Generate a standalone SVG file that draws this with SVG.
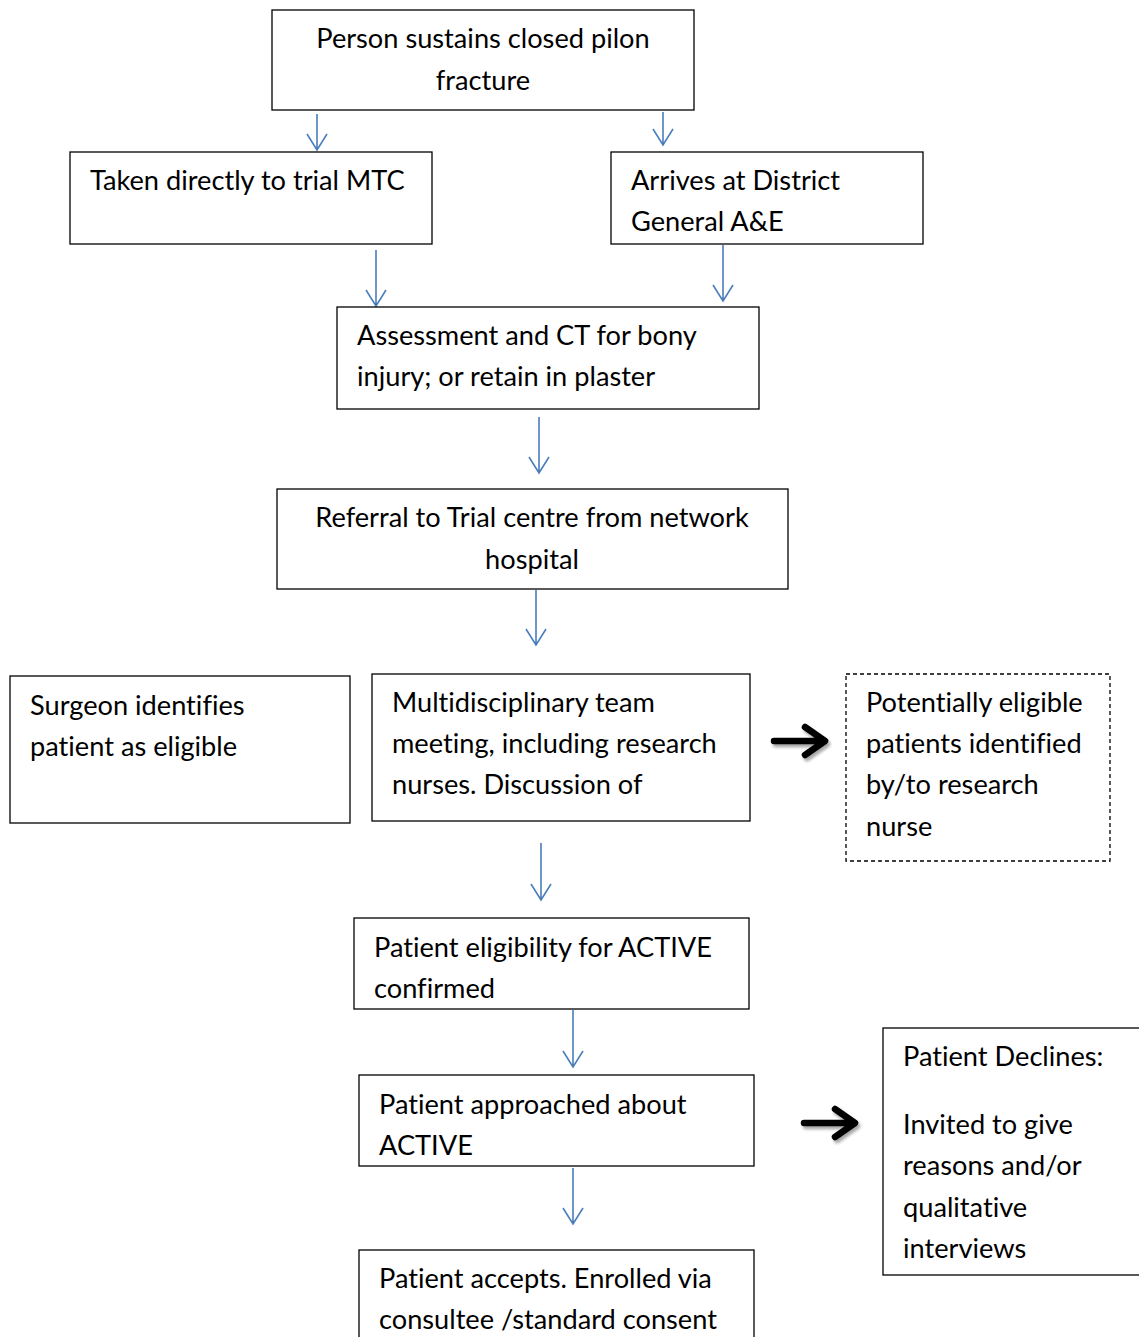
<svg xmlns="http://www.w3.org/2000/svg" width="1139" height="1337" viewBox="0 0 1139 1337">
<defs>
<style>
.box{fill:#fff;stroke:#000;stroke-width:1.3}
.dash{fill:#fff;stroke:#000;stroke-width:1.3;stroke-dasharray:4 3}
text{font-family:Lato,"Open Sans","Liberation Sans",sans-serif;font-size:27.2px;fill:#000;font-variant-ligatures:none}
.c{text-anchor:middle}
.con{stroke:#4a7ebb;stroke-width:1.6;fill:none}
.big{stroke:#000;stroke-width:6.5;fill:none;stroke-linecap:round;stroke-linejoin:round}
</style>
<filter id="sh" x="-20%" y="-50%" width="150%" height="200%"><feDropShadow dx="2" dy="3" stdDeviation="1.5" flood-color="#000" flood-opacity="0.35"/></filter>
</defs>
<rect width="1139" height="1337" fill="#fff"/>
<g id="connectors">
<path class="con" d="M317 114V150M307 134L317 150L327 134"/>
<path class="con" d="M663 112V145M653 129L663 145L673 129"/>
<path class="con" d="M376 250V306M366 290L376 306L386 290"/>
<path class="con" d="M723 245V301M713 285L723 301L733 285"/>
<path class="con" d="M539 417V473M529 457L539 473L549 457"/>
<path class="con" d="M536 590V645M526 629L536 645L546 629"/>
<path class="con" d="M541 843V900M531 884L541 900L551 884"/>
<path class="con" d="M573 1010V1067M563 1051L573 1067L583 1051"/>
<path class="con" d="M573 1168V1224M563 1208L573 1224L583 1208"/>
<g filter="url(#sh)">
<path class="big" d="M774 741H822M805 727L825 741L805 755"/>
<path class="big" d="M804 1123H852M835 1109L855 1123L835 1137"/>
</g>
</g>
<g id="n1"><rect class="box" x="272" y="10" width="422" height="100"/><text class="c" x="483" y="48">Person sustains closed pilon</text><text class="c" x="483" y="90">fracture</text></g>
<g id="n2"><rect class="box" x="70" y="152" width="362" height="92"/><text x="90" y="190">Taken directly to trial MTC</text></g>
<g id="n3"><rect class="box" x="611" y="152" width="312" height="92"/><text x="631" y="190">Arrives at District</text><text x="631" y="231">General A&amp;E</text></g>
<g id="n4"><rect class="box" x="337" y="307" width="422" height="102"/><text x="357" y="345">Assessment and CT for bony</text><text x="357" y="386">injury; or retain in plaster</text></g>
<g id="n5"><rect class="box" x="277" y="489" width="511" height="100"/><text class="c" x="532" y="527">Referral to Trial centre from network</text><text class="c" x="532" y="569">hospital</text></g>
<g id="n6"><rect class="box" x="10" y="676" width="340" height="147"/><text x="30" y="715">Surgeon identifies</text><text x="30" y="756">patient as eligible</text></g>
<g id="n7"><rect class="box" x="372" y="674" width="378" height="147"/><text x="392" y="712">Multidisciplinary team</text><text x="392" y="753">meeting, including research</text><text x="392" y="794">nurses. Discussion of</text></g>
<g id="n8"><rect class="dash" x="846" y="674" width="264" height="187"/><text x="866" y="712">Potentially eligible</text><text x="866" y="753">patients identified</text><text x="866" y="794">by/to research</text><text x="866" y="836">nurse</text></g>
<g id="n9"><rect class="box" x="354" y="918" width="395" height="91"/><text x="374" y="957">Patient eligibility for ACTIVE</text><text x="374" y="998">confirmed</text></g>
<g id="n10"><rect class="box" x="359" y="1075" width="395" height="91"/><text x="379" y="1114">Patient approached about</text><text x="379" y="1155">ACTIVE</text></g>
<g id="n11"><rect class="box" x="883" y="1028" width="270" height="247"/><text x="903" y="1066">Patient Declines:</text><text x="903" y="1134">Invited to give</text><text x="903" y="1175">reasons and/or</text><text x="903" y="1217">qualitative</text><text x="903" y="1258">interviews</text></g>
<g id="n12"><rect class="box" x="359" y="1250" width="395" height="100"/><text x="379" y="1288">Patient accepts. Enrolled via</text><text x="379" y="1329">consultee /standard consent</text></g>
</svg>
